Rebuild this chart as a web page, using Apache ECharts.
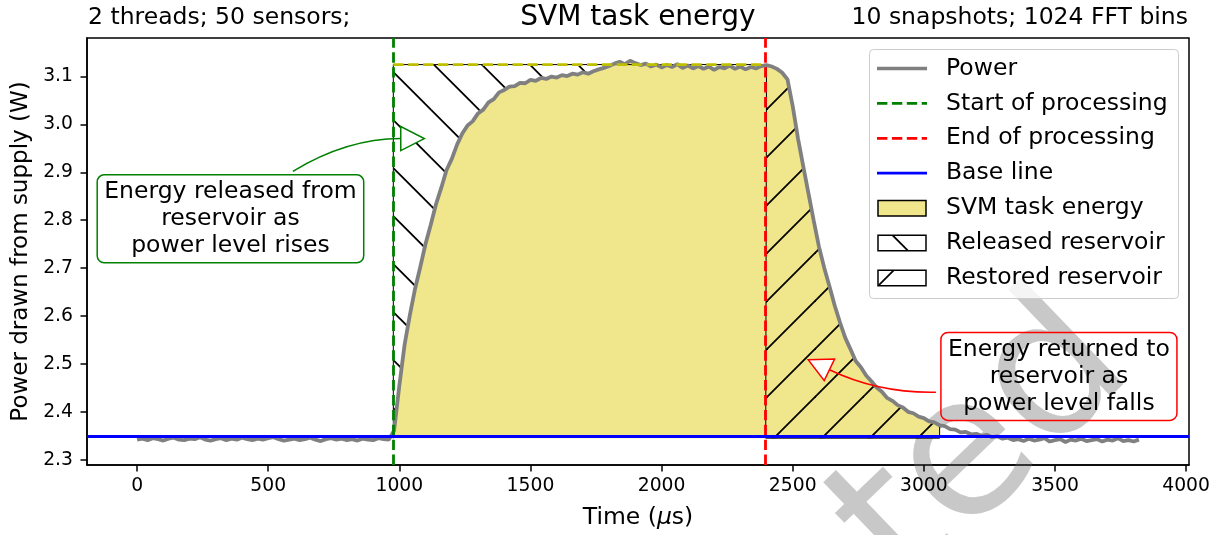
<!DOCTYPE html>
<html><head><meta charset="utf-8">
<script src="https://cdn.jsdelivr.net/npm/echarts@6/dist/echarts.min.js"></script>
<style>html,body{margin:0;padding:0;background:#fff}#c{width:1225px;height:535px}</style>
</head><body><div id="c"></div>
<script>
// ---------------- data ----------------
const timeStart = 0, timeStep = 20; // microseconds, one sample every 20 us
const power = [
 2.342,2.344,2.341,2.345,2.343,2.340,2.344,2.346,2.342,2.341,
 2.344,2.343,2.347,2.342,2.340,2.343,2.345,2.341,2.344,2.342,
 2.346,2.343,2.341,2.344,2.342,2.345,2.347,2.343,2.340,2.342,
 2.344,2.341,2.343,2.346,2.342,2.339,2.343,2.345,2.342,2.344,
 2.341,2.343,2.340,2.344,2.342,2.341,2.345,2.343,2.342,
 2.361,2.455,2.540,2.602,2.657,2.703,2.751,2.791,2.834,2.868,
 2.905,2.928,2.958,2.981,2.998,3.007,3.023,3.031,3.046,3.053,
 3.067,3.072,3.079,3.080,3.087,3.086,3.093,3.091,3.097,3.095,
 3.100,3.098,3.103,3.101,3.106,3.104,3.109,3.106,3.111,3.115,
 3.118,3.122,3.127,3.131,3.126,3.133,3.128,3.124,3.127,3.121,
 3.125,3.119,3.124,3.120,3.126,3.118,3.123,3.117,3.122,3.116,
 3.121,3.114,3.120,3.117,3.123,3.116,3.121,3.115,3.120,3.117,
 3.122,
 3.124,3.121,3.116,3.108,3.094,3.038,2.971,2.913,2.856,2.799,
 2.745,2.701,2.662,2.622,2.587,2.555,2.531,2.506,2.493,2.476,
 2.464,2.451,2.442,2.429,2.423,2.414,2.409,2.400,2.397,2.390,
 2.387,2.380,2.378,2.372,2.370,2.364,2.363,2.357,2.358,2.353,
 2.354,2.350,2.352,2.347,2.349,
 2.344,2.346,2.341,2.343,2.339,2.344,2.340,2.342,2.345,2.338,
 2.341,2.343,2.337,2.342,2.340,2.344,2.339,2.341,2.343,2.338,
 2.342,2.340,2.345,2.339,2.341,2.338,2.342
];
const startTime = 977;     // start of processing (us)
const endTime = 2397;      // end of processing (us)
const fillEnd = 3060;      // end of shaded task energy (us)
const baseLine = 2.345;    // W
const peakLine = 3.125;    // W
const xTicks = [0, 500, 1000, 1500, 2000, 2500, 3000, 3500, 4000];
const yTicks = [2.3, 2.4, 2.5, 2.6, 2.7, 2.8, 2.9, 3.0, 3.1];
const xRange = [-191, 4011];
const yRange = [2.289, 3.1805];
const legendLabels = ['Power', 'Start of processing', 'End of processing', 'Base line',
  'SVM task energy', 'Released reservoir', 'Restored reservoir'];
const titleText = 'SVM task energy';
const leftNote = '2 threads; 50 sensors;';
const rightNote = '10 snapshots; 1024 FFT bins';
const watermark = 'ted';
// annotation anchors in data coordinates
const greenNote = {text: 'Energy released from\nreservoir as\npower level rises',
  at: [356, 2.803], tail: [594, 2.902], ctrl: [800, 2.9705], tip: [1095, 2.9705]};
const redNote = {text: 'Energy returned to\nreservoir as\npower level falls',
  at: [3515, 2.474], tail: [3046, 2.441], ctrl: [2828, 2.4385], tip: [2559, 2.509]};

// ---------------- helpers ----------------
const FONT = 'DejaVu Sans';
const FS = 23.5;       // 12pt text
const times = power.map((_, i) => timeStart + i * timeStep);
const samples = times.map((t, i) => [t, power[i]]);

function hatch(kind, off) {
  const c = document.createElement('canvas');
  c.width = 48; c.height = 48;
  const g = c.getContext('2d');
  g.strokeStyle = '#000'; g.lineWidth = 1.8;
  for (const k of [-96, -48, 0, 48, 96]) {
    g.beginPath();
    if (kind === 'back') { g.moveTo(-10, -10 + off + k); g.lineTo(58, 58 + off + k); }
    else { g.moveTo(-10, off + k + 10); g.lineTo(58, off + k - 58); }
    g.stroke();
  }
  return c;
}
const backHatch = {image: hatch('back', 14.7), repeat: 'repeat'};
const fwdHatch = {image: hatch('fwd', 12), repeat: 'repeat'};

function regionPoints(kind) {
  if (kind === 'task') {
    const inside = samples.filter(p => p[0] >= startTime && p[0] <= fillEnd);
    return [[startTime, baseLine], ...inside, [inside[inside.length - 1][0], baseLine]];
  }
  if (kind === 'released') {
    const inside = samples.filter(p => p[0] >= startTime && p[0] <= endTime).reverse();
    return [[startTime, peakLine], [endTime, peakLine], ...inside, [startTime, baseLine]];
  }
  const inside = samples.filter(p => p[0] >= endTime && p[0] <= fillEnd);
  return [[endTime, baseLine], ...inside, [inside[inside.length - 1][0], baseLine]];
}
function regionSeries(kind, fill, stroke, z) {
  return {
    type: 'custom', z, silent: true, clip: true, data: [[0, 2.5]],
    renderItem: (params, api) => ({
      type: 'polygon',
      shape: {points: regionPoints(kind).map(p => api.coord(p))},
      style: {fill, stroke: stroke || null, lineWidth: stroke ? 1 : 0}
    })
  };
}
const dash = [10.4, 4.5];

const chart = echarts.init(document.getElementById('c'), null, {renderer: 'canvas'});
chart.setOption({
  animation: false,
  backgroundColor: '#fff',
  grid: {left: 87, right: 36, top: 38, bottom: 68, show: true, borderColor: '#000', borderWidth: 1.5, backgroundColor: 'transparent'},
  xAxis: {
    type: 'value', min: xRange[0], max: xRange[1],
    name: 'Time ({i|μ}s)', nameLocation: 'middle', nameGap: 41,
    nameTextStyle: {fontSize: FS, fontFamily: FONT, color: '#000',
      rich: {i: {fontStyle: 'italic', fontSize: FS, fontFamily: FONT, color: '#000'}}},
    splitLine: {show: false},
    axisLine: {show: true, onZero: false, lineStyle: {color: '#000', width: 1.5}},
    axisTick: {show: true, customValues: xTicks, length: 6.5, lineStyle: {color: '#000', width: 1.5}},
    axisLabel: {customValues: xTicks, fontSize: 18.75, fontFamily: FONT, color: '#000', margin: 12,
      formatter: v => String(Math.round(v))}
  },
  yAxis: {
    type: 'value', min: yRange[0], max: yRange[1],
    name: 'Power drawn from supply (W)', nameLocation: 'middle', nameGap: 49,
    nameTextStyle: {fontSize: 23, fontFamily: FONT, color: '#000'},
    splitLine: {show: false},
    axisLine: {show: true, onZero: false, lineStyle: {color: '#000', width: 1.5}},
    axisTick: {show: true, customValues: yTicks, length: 6.5, lineStyle: {color: '#000', width: 1.5}},
    axisLabel: {customValues: yTicks, fontSize: 18.75, fontFamily: FONT, color: '#000', margin: 14,
      formatter: v => Number(v).toFixed(1)}
  },
  series: [
    regionSeries('task', '#f0e68c', null, 1),
    regionSeries('released', backHatch, '#000', 2),
    regionSeries('restored', fwdHatch, '#000', 2),
    {type: 'line', name: legendLabels[0], data: samples, showSymbol: false, symbol: 'none', z: 4,
      lineStyle: {color: '#808080', width: 3.8}},
    {type: 'line', data: [[startTime, peakLine], [endTime, peakLine]], symbol: 'none', z: 5,
      lineStyle: {color: '#bfbf00', width: 2.8, type: dash}},
    {type: 'line', name: legendLabels[1], data: [], z: 6,
      markLine: {silent: true, symbol: ['none', 'none'], label: {show: false},
        lineStyle: {color: '#008000', width: 2.8, type: dash}, data: [{xAxis: startTime}]}},
    {type: 'line', name: legendLabels[2], data: [], z: 6,
      markLine: {silent: true, symbol: ['none', 'none'], label: {show: false},
        lineStyle: {color: '#ff0000', width: 2.8, type: dash}, data: [{xAxis: endTime}]}},
    {type: 'line', name: legendLabels[3], data: [], z: 7,
      markLine: {silent: true, symbol: ['none', 'none'], label: {show: false},
        lineStyle: {color: '#0000ff', width: 2.8, type: 'solid'}, data: [{yAxis: baseLine}]}}
  ]
});

// ---------------- graphics: titles, legend, annotations ----------------
const px = p => chart.convertToPixel({gridIndex: 0}, p);
const g = [];
function txt(text, x, y, size, align, extra) {
  g.push(Object.assign({type: 'text', x, y, z: 100, silent: true,
    style: Object.assign({text, fontSize: size, fontFamily: FONT, fill: '#000',
      align, textAlign: align, verticalAlign: 'middle', textVerticalAlign: 'middle'}, extra || {})}));
}
txt(titleText, 638, 18, 28, 'center');
txt(leftNote, 88, 18, FS, 'left');
txt(rightNote, 1188, 18, FS, 'right');

// legend
g.push({type: 'rect', z: 90, silent: true, shape: {x: 869.5, y: 49.5, width: 309, height: 249, r: 4},
  style: {fill: 'rgba(255,255,255,0.8)', stroke: '#cccccc', lineWidth: 1}});
const rowY = [68.5, 103.4, 138.3, 173.2, 208.1, 243, 277.9];
const lineKeys = [{c: '#808080', w: 3.6, d: null}, {c: '#008000', w: 2.8, d: dash},
  {c: '#ff0000', w: 2.8, d: dash}, {c: '#0000ff', w: 2.8, d: null}];
lineKeys.forEach((k, i) => {
  g.push({type: 'line', z: 95, silent: true, shape: {x1: 877, y1: rowY[i], x2: 927, y2: rowY[i]},
    style: {stroke: k.c, lineWidth: k.w, lineDash: k.d}});
});
const patchFills = ['#f0e68c', backHatch, fwdHatch];
patchFills.forEach((f, j) => {
  const y = rowY[4 + j] - 7.7;
  g.push({type: 'rect', z: 95, silent: true, shape: {x: 878, y, width: 48, height: 15.5},
    style: {fill: '#fff', stroke: null}});
  g.push({type: 'rect', z: 96, silent: true, shape: {x: 878, y, width: 48, height: 15.5},
    style: {fill: f, stroke: '#000', lineWidth: 1.5}});
});
legendLabels.forEach((l, i) => txt(l, 946, rowY[i], FS, 'left'));

// annotations
function note(n, color) {
  const c = px(n.at), t0 = px(n.tail), cp = px(n.ctrl), tip = px(n.tip);
  const dx = tip[0] - cp[0], dy = tip[1] - cp[1], len = Math.hypot(dx, dy);
  const ux = dx / len, uy = dy / len;
  const bx = tip[0] - 23.5 * ux, by = tip[1] - 23.5 * uy;
  const nx = -uy, ny = ux;
  g.push({type: 'bezierCurve', z: 100, silent: true,
    shape: {x1: t0[0], y1: t0[1], x2: bx, y2: by, cpx1: cp[0], cpy1: cp[1]},
    style: {stroke: color, lineWidth: 1.5, fill: null}});
  g.push({type: 'polygon', z: 101, silent: true,
    shape: {points: [tip, [bx + 12 * nx, by + 12 * ny], [bx - 12 * nx, by - 12 * ny]]},
    style: {fill: '#fff', stroke: color, lineWidth: 1.5}});
  txt(n.text, c[0], c[1], FS, 'center', {lineHeight: 27, borderColor: color, borderWidth: 1.5,
    borderRadius: 7, padding: [4, 7, 3, 7]});
}
note(greenNote, '#008000');
note(redNote, '#ff0000');

// watermark fragment (page stamp, partly off the picture)
g.push({type: 'text', x: 870, y: 557, rotation: 0.765, z: 0, silent: true,
  style: {text: watermark, fontSize: 195, fontFamily: FONT, fill: '#c8c8c8',
    align: 'left', textAlign: 'left', verticalAlign: 'middle', textVerticalAlign: 'middle'}});

chart.setOption({graphic: g});
</script></body></html>
